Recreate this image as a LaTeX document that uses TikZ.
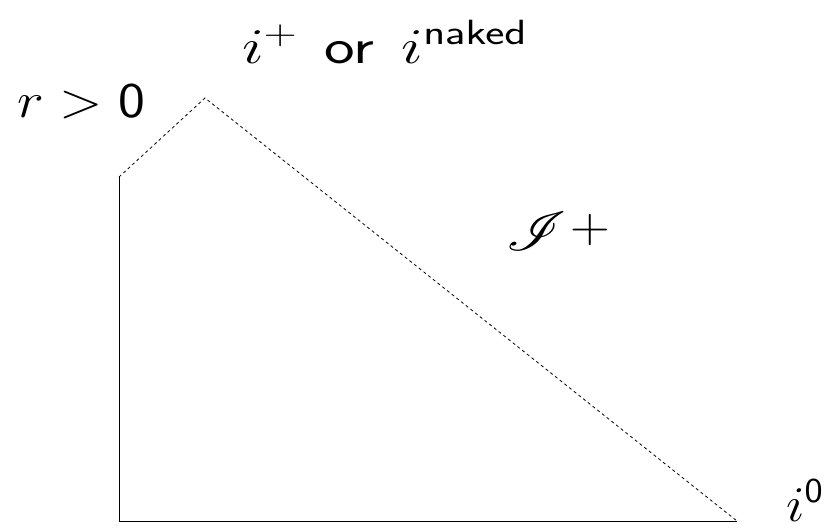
\RequirePackage{fix-cm}
\documentclass[tikz,border=0pt]{standalone}
\usepackage{mathrsfs}
\usetikzlibrary{positioning}
\newcommand{\esticado}[2]{\scalebox{#1}[1]{#2}}

\begin{document}
\begin{tikzpicture}[
    x=1pt, y=-1pt,
    rotulo/.style={
        inner sep=0pt,
        anchor=base west,
        font=\fontsize{50}{60}\selectfont
    },
    borda/.style={
        line width=1pt
    },
    nula/.style={
        line width=0.8pt,
        dash pattern=on 3pt off 3pt
    }
]

\useasboundingbox (0,0) rectangle (836,530);

\coordinate (baixo) at (119,521);
\coordinate (topo) at (119,177);
\coordinate (pico) at (205,98);
\coordinate (infinito) at (737,521);

\draw[borda] (topo) -- (baixo) -- (infinito);
\draw[nula] (topo) -- (pico) -- (infinito);

\node[rotulo] (raio) at (17,117)
{\esticado{1.14}{$r>\mathsf{0}$}};

\node[rotulo] (futuro) at (242,63)
{\esticado{1.3}{$i^{+}$\hspace{21pt}\textsf{or}\hspace{21pt}$i^{\mathsf{naked}}$}};

\node[rotulo] (scri) at (506,250)
{\esticado{1.1}{\scalebox{2.2}{$\mathscr{I}$}\hspace{4pt}\raisebox{8pt}{$+$}}};

\node[rotulo] (espacial) at (786,521)
{\esticado{1.1}{$i^{\mathsf{0}}$}};

\end{tikzpicture}
\end{document}
